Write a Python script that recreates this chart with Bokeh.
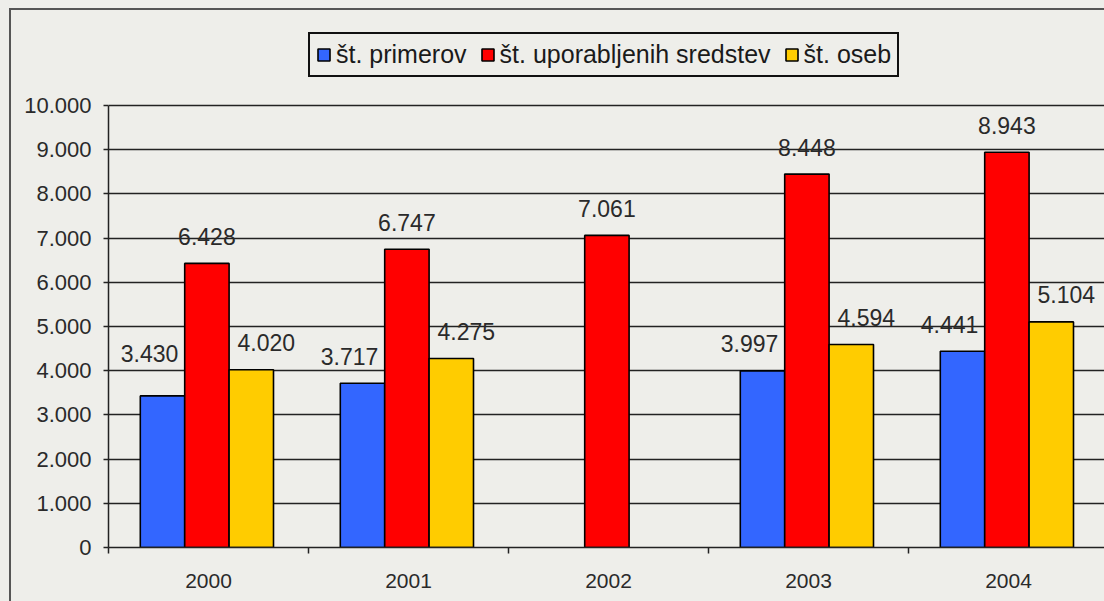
import numpy as np
from bokeh.plotting import figure
from bokeh.models import ColumnDataSource, Range1d, FixedTicker, Legend, LegendItem
from bokeh.core.properties import value
from bokeh.embed import file_html
from bokeh.resources import INLINE

# ---- data ----
years = ["2000", "2001", "2002", "2003", "2004"]
primerov = [3430, 3717, None, 3997, 4441]
sredstev = [6428, 6747, 7061, 8448, 8943]
oseb = [4020, 4275, None, 4594, 5104]
series_names = ["št. primerov", "št. uporabljenih sredstev", "št. oseb"]
y_ticks = list(range(0, 10001, 1000))
Y_MAX = 10000

# ---- style ----
colors = ["#3366ff", "#ff0000", "#ffcc00"]
BG = "#eeeeea"
FONT = "Liberation Sans"
BAR_W = 0.222
GROUP_SHIFT = -0.008             # small left shift of each bar group
label_dx = [-13, 0, 15]          # px shift of value labels per series
label_dy = 27                    # px above the bar top
label_extra = {(0, 0): 15}       # (series, category) -> extra px up

PX_PER_CAT = 200
PX_AXIS = 442                    # pixels from 0 to Y_MAX
HEADROOM = 85                    # pixels above Y_MAX inside the frame (legend lives here)
FW, FH = 996, PX_AXIS + HEADROOM
ML, MR, MT, MB = 97, 0, 10, 54
y_top = Y_MAX * FH / PX_AXIS

p = figure(frame_width=FW, frame_height=FH, output_backend="svg", toolbar_location=None,
           x_range=Range1d(0, FW / PX_PER_CAT), y_range=Range1d(0, y_top),
           min_border_left=ML, min_border_right=MR, min_border_top=MT,
           min_border_bottom=MB)
p.background_fill_color = BG
p.border_fill_color = BG
p.outline_line_color = None
p.styles = {"border-left": "2px solid #555555", "border-top": "2px solid #555555",
            "margin-left": "9px", "margin-top": "8px"}

fmt = lambda v: f"{v:,}".replace(",", ".")

all_series = [primerov, sredstev, oseb]
renderers = []
for k, vals in enumerate(all_series):
    idx = [i for i, v in enumerate(vals) if v is not None]
    xs = [i + 0.5 + GROUP_SHIFT + (k - 1) * BAR_W for i in idx]
    tops = [vals[i] for i in idx]
    src = ColumnDataSource(dict(
        x=xs, top=tops, label=[fmt(v) for v in tops],
        yoff=[-(label_dy + label_extra.get((k, i), 0)) for i in idx]))
    r = p.vbar(x="x", top="top", width=BAR_W, bottom=0, source=src,
               fill_color=colors[k], line_color="black", line_width=1.6)
    renderers.append(r)
    p.text(x="x", y="top", text="label", source=src, x_offset=label_dx[k],
           y_offset="yoff", text_align="center", text_baseline="middle",
           text_font=value(FONT), text_font_size="23px", text_color="#2a2a2a")

# axes
p.xgrid.visible = False
p.ygrid.grid_line_color = "#222222"
p.ygrid.grid_line_width = 1.5
p.ygrid.ticker = FixedTicker(ticks=y_ticks)

ya = p.yaxis[0]
ya.ticker = FixedTicker(ticks=y_ticks)
ya.bounds = (0, Y_MAX)
ya.major_label_overrides = {t: fmt(t) for t in y_ticks}
ya.axis_line_color = "#222222"
ya.axis_line_width = 1.5
ya.major_tick_line_color = "#222222"
ya.major_tick_line_width = 1.5
ya.major_tick_in = 0
ya.major_tick_out = 5
ya.minor_tick_line_color = None
ya.major_label_standoff = 12
ya.major_label_text_font = FONT
ya.major_label_text_font_size = "22px"
ya.major_label_text_color = "#2a2a2a"

xa = p.xaxis[0]
centers = [i + 0.5 for i in range(len(years))]
xa.ticker = FixedTicker(ticks=centers, minor_ticks=list(range(len(years) + 1)))
xa.major_label_overrides = {c: y for c, y in zip(centers, years)}
xa.axis_line_color = "#222222"
xa.axis_line_width = 1.5
xa.major_tick_line_color = None
xa.major_tick_in = 0
xa.major_tick_out = 0
xa.minor_tick_line_color = "#222222"
xa.minor_tick_line_width = 1.5
xa.minor_tick_in = 0
xa.minor_tick_out = 6
xa.major_label_standoff = 20
xa.major_label_text_font = FONT
xa.major_label_text_font_size = "21px"
xa.major_label_text_color = "#2a2a2a"

legend = Legend(items=[LegendItem(label=n, renderers=[r]) for n, r in zip(series_names, renderers)],
                orientation="horizontal", location=(200, PX_AXIS + 28), margin=0)
legend.label_text_font = FONT
legend.label_text_font_size = "25px"
legend.label_text_color = "#1a1a1a"
legend.glyph_width = 15
legend.glyph_height = 15
legend.label_standoff = 5
legend.spacing = 13
legend.padding = 6
legend.border_line_color = "#111111"
legend.border_line_alpha = 1
legend.border_line_width = 2
legend.background_fill_color = BG
legend.background_fill_alpha = 1
p.add_layout(legend, "center")

html = file_html(p, INLINE)
html = html.replace("</head>", f"<style>html, body {{ background-color: {BG} !important; }}</style></head>", 1)
open("out.html", "w").write(html)
